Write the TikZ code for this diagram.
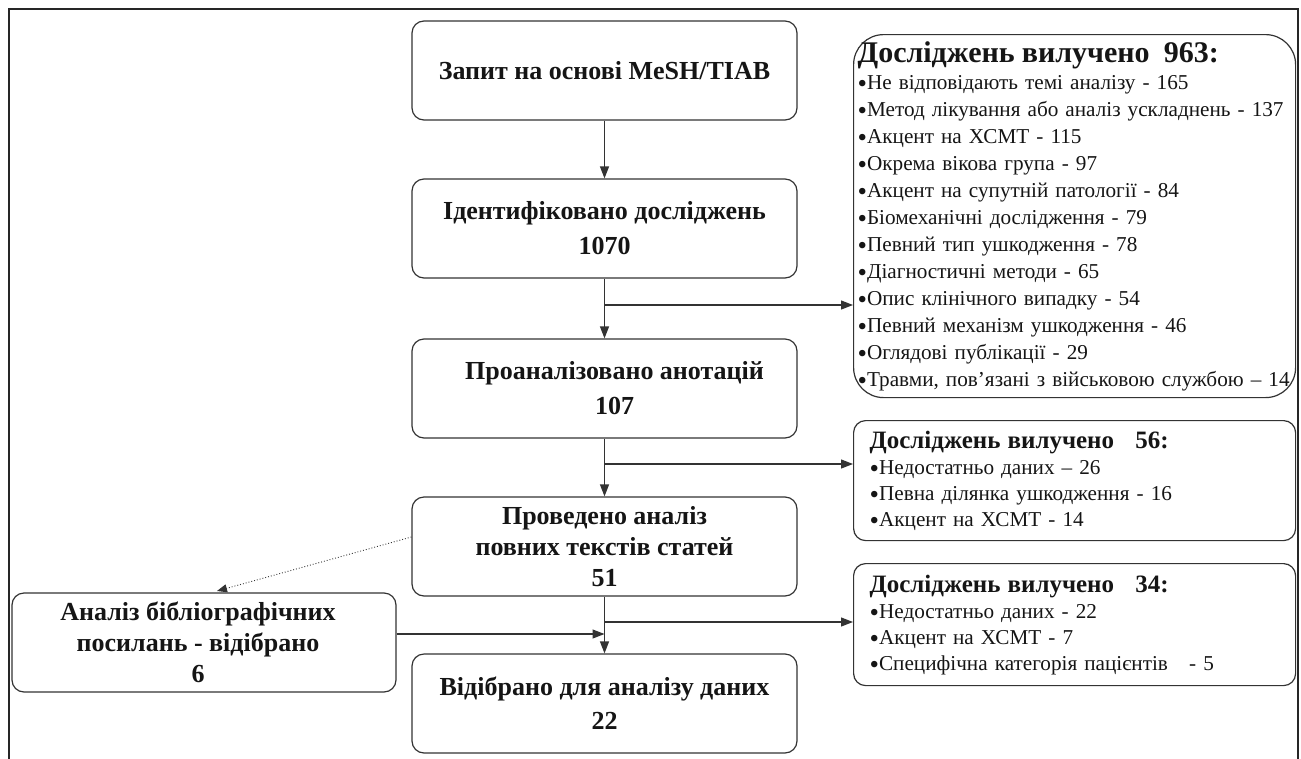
\documentclass[tikz,border=0pt]{standalone}
\usepackage{fontspec}
\setmainfont{Liberation Serif}
\usetikzlibrary{arrows.meta}
\definecolor{lineclr}{HTML}{333333}
\definecolor{txtclr}{HTML}{151515}
\newcommand{\blt}{\raisebox{-3.2pt}{\fontsize{27}{1}\selectfont •}}
\begin{document}
\begin{tikzpicture}[x=1pt,y=-1pt,
  mainbox/.style={draw=lineclr, line width=1.2pt, rounded corners=12pt, minimum width=385pt, minimum height=99pt, inner sep=0pt, align=center, text=txtclr, font=\fontsize{26}{31}\selectfont\bfseries},
  sidebox/.style={draw=lineclr, line width=1.2pt, rounded corners=12pt, anchor=north west, minimum width=442pt, inner xsep=16pt, inner ysep=0pt, text width=410pt, align=left, text=txtclr, font=\fontsize{21.2}{26}\selectfont},
  arr/.style={draw=lineclr, line width=1.2pt, -{Triangle[length=12pt,width=9pt]}},
  dotarr/.style={draw=lineclr, line width=0.9pt, dotted, -{Triangle[length=10pt,width=8pt]}},
  frame/.style={draw=black!85, line width=2pt}]
\useasboundingbox (0,0) rectangle (1301,758);
\draw[frame] (9,762) -- (9,9) -- (1298,9) -- (1298,762);

\node[mainbox] (b1) at (604.5,70.5) {Запит на основі MeSH/TIAB};
\node[mainbox] (b2) at (604.5,228.5) {Ідентифіковано досліджень\\[4pt]1070};
\node[mainbox] (b3) at (604.5,388.5) {\hspace*{20pt}Проаналізовано анотацій\\[4pt]\hspace*{20pt}107};
\node[mainbox] (b4) at (604.5,546.5) {Проведено аналіз\\повних текстів статей\\51};
\node[mainbox] (b5) at (604.5,703.5) {Відібрано для аналізу даних\\[3pt]22};
\node[mainbox, minimum width=384pt] (lb) at (204,642.5) {\hspace*{-12pt}Аналіз бібліографічних\\\hspace*{-12pt}посилань - відібрано\\\hspace*{-12pt}6};

\node[sidebox, rounded corners=30pt, minimum height=363pt, inner xsep=4pt, text width=434pt, font=\fontsize{21.2}{27}\selectfont] (r1) at (853,34) {%
\mbox{\fontsize{30}{27}\selectfont\bfseries Досліджень вилучено\ \ 963:}\\
\mbox{\blt Не відповідають темі аналізу - 165}\\
\mbox{\blt Метод лікування або аналіз ускладнень - 137}\\
\mbox{\blt Акцент на ХСМТ - 115}\\
\mbox{\blt Окрема вікова група - 97}\\
\mbox{\blt Акцент на супутній патології - 84}\\
\mbox{\blt Біомеханічні дослідження - 79}\\
\mbox{\blt Певний тип ушкодження - 78}\\
\mbox{\blt Діагностичні методи - 65}\\
\mbox{\blt Опис клінічного випадку - 54}\\
\mbox{\blt Певний механізм ушкодження - 46}\\
\mbox{\blt Оглядові публікації - 29}\\
\mbox{\blt Травми, пов'язані з військовою службою – 14}};

\node[sidebox, minimum height=120pt] (r2) at (853,420) {%
\mbox{\fontsize{25}{26}\selectfont\bfseries Досліджень вилучено\ \ \ 56:}\\
\mbox{\blt Недостатньо даних – 26}\\
\mbox{\blt Певна ділянка ушкодження - 16}\\
\mbox{\blt Акцент на ХСМТ - 14}};

\node[sidebox, minimum height=122pt] (r3) at (853,563) {%
\mbox{\fontsize{25}{26}\selectfont\bfseries Досліджень вилучено\ \ \ 34:}\\
\mbox{\blt Недостатньо даних - 22}\\
\mbox{\blt Акцент на ХСМТ - 7}\\
\mbox{\blt Специфічна категорія пацієнтів\ \ \ - 5}};

\draw[arr] (b1) -- (b2);
\draw[arr] (b2) -- (b3);
\draw[arr] (b3) -- (b4);
\draw[arr] (b4) -- (b5);

\coordinate (j1) at (604.5,305);
\coordinate (j2) at (604.5,464);
\coordinate (j3) at (604.5,622);
\coordinate (j4) at (604.5,634);
\draw[arr] (j1) -- (j1 -| r1.west);
\draw[arr] (j2) -- (j2 -| r2.west);
\draw[arr] (j3) -- (j3 -| r3.west);
\draw[arr] (j4 -| lb.east) -- (j4);

\coordinate (ds) at (412,537);
\coordinate (dt) at (217,591);
\draw[dotarr] (b4.west |- ds) -- (dt);
\end{tikzpicture}
\end{document}
